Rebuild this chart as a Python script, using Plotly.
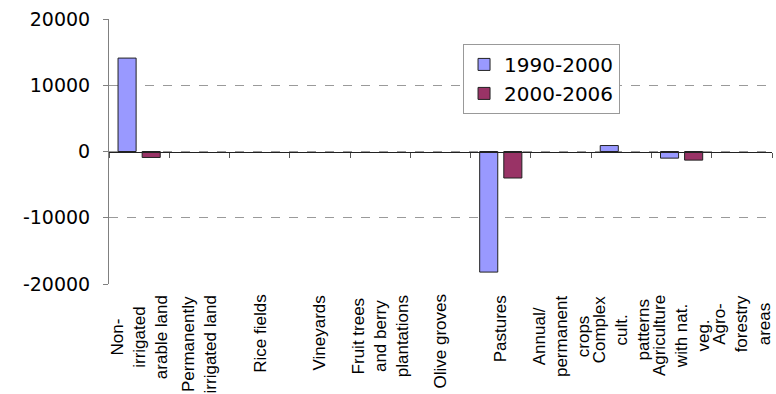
import plotly.graph_objects as go

# Agricultural land-cover categories (tick labels, with manual line breaks)
categories = [
    "Non-<br>irrigated<br>arable land",
    "Permanently<br>irrigated land",
    "Rice fields",
    "Vineyards",
    "Fruit trees<br>and berry<br>plantations",
    "Olive groves",
    "Pastures",
    "Annual/<br>permanent<br>crops",
    "Complex<br>cult.<br>patterns",
    "Agriculture<br>with nat.<br>veg.",
    "Agro-<br>forestry<br>areas",
]
cat_keys = [f"c{i}" for i in range(len(categories))]

# Mean annual change per period [ha/year]; None = no change recorded
change_1990_2000 = [14100, None, None, None, None, None, -18200, None, 900, -1000, None]
change_2000_2006 = [-900, None, None, None, None, None, -4000, None, None, -1300, None]

series_names = ["1990-2000", "2000-2006"]
series_colors = ["#9999FF", "#993366"]

y_ticks = [-20000, -10000, 0, 10000, 20000]

fig = go.Figure()
for name, vals, col in zip(series_names, [change_1990_2000, change_2000_2006], series_colors):
    fig.add_trace(go.Bar(
        x=cat_keys, y=vals, name=name,
        marker=dict(color=col, line=dict(color="#222222", width=1)),
    ))

# Category labels below the plot area, rotated with centred lines
for key, label in zip(cat_keys, categories):
    fig.add_annotation(
        x=key, xref="x", y=-0.034, yref="paper",
        text=label, textangle=-90, showarrow=False,
        xanchor="center", yanchor="top", align="center",
        font=dict(family="Liberation Sans", size=17, color="#000000"),
    )

fig.update_layout(
    width=776, height=394,
    margin=dict(l=109, r=4, t=19, b=110),
    paper_bgcolor="white", plot_bgcolor="white",
    barmode="group", bargap=0.2, bargroupgap=0.25,
    showlegend=True,
    legend=dict(
        x=0.534, y=0.906, xanchor="left", yanchor="top",
        bgcolor="white", bordercolor="#999999", borderwidth=1,
        font=dict(family="DejaVu Sans", size=20, color="#000000"),
        tracegroupgap=0,
    ),
    font=dict(family="DejaVu Sans", color="#000000"),
)

fig.update_xaxes(
    type="category", range=[-0.5, len(categories) - 0.5],
    anchor="free", position=0.5,
    showline=True, linecolor="#222222", linewidth=1,
    ticks="outside", tickson="boundaries", ticklen=5, tickcolor="#555555",
    showticklabels=False, showgrid=False, zeroline=False,
)

fig.update_yaxes(
    range=[-20000, 20000], tickvals=y_ticks,
    ticktext=[str(v) for v in y_ticks],
    showline=True, linecolor="#808080", linewidth=1,
    ticks="outside", ticklen=5, tickcolor="#808080",
    showgrid=True, gridcolor="#9a9a9a", griddash="dash", gridwidth=1,
    zeroline=False,
    tickfont=dict(family="DejaVu Sans", size=19, color="#000000"),
    ticklabelstandoff=9,
)

fig.write_html("out.html")
